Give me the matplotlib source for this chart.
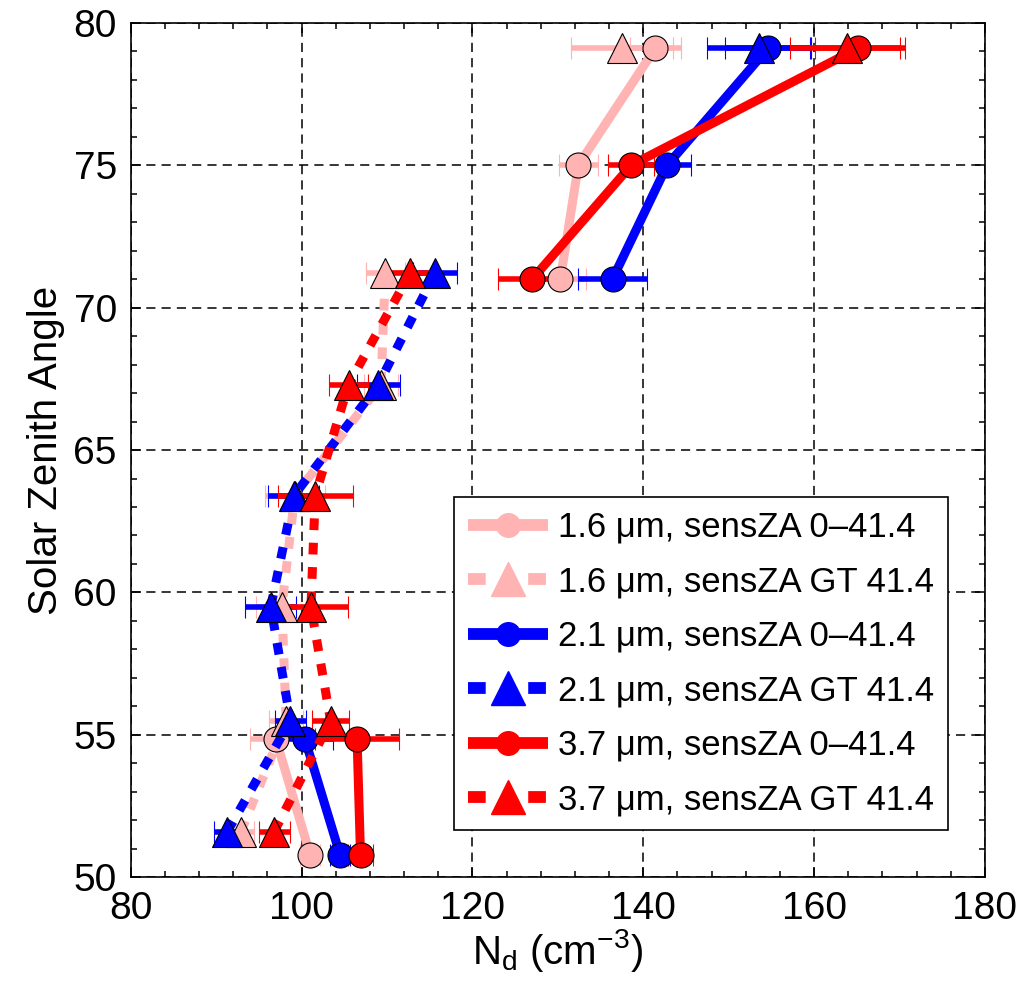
import numpy as np
import matplotlib
matplotlib.use('Agg')
import matplotlib.pyplot as plt
from matplotlib.lines import Line2D
from matplotlib.ticker import MultipleLocator

plt.rcParams['font.family'] = ['Liberation Sans', 'DejaVu Sans']
plt.rcParams['mathtext.fontset'] = 'custom'
plt.rcParams['mathtext.rm'] = 'Liberation Sans'
plt.rcParams['mathtext.it'] = 'Liberation Sans'

nan = np.nan

# mean solar zenith angle of each bin (near-nadir circles / off-nadir triangles)
sza_near = [50.8, 54.85, nan, nan, nan, 71.0, 75.0, 79.1]
sza_far = [51.6, 55.5, 59.5, 63.4, 67.3, 71.2, nan, 79.1]

# droplet number concentration and its error, per band
nd_16_near = [101.0, 97.0, nan, nan, nan, 130.3, 132.4, 141.4]
err_16_near = [1.2, 3.0, nan, nan, nan, 3.0, 2.3, 3.0]
nd_16_far = [92.9, 98.2, 97.7, 99.2, 109.3, 109.8, nan, 137.5]
err_16_far = [1.5, 2.0, 3.0, 3.5, 2.0, 2.3, nan, 6.0]

nd_21_near = [104.5, 100.4, nan, nan, nan, 136.4, 142.8, 154.6]
err_21_near = [1.2, 3.3, nan, nan, nan, 4.0, 2.8, 5.0]
nd_21_far = [91.3, 98.7, 96.4, 99.1, 109.0, 115.6, nan, 153.5]
err_21_far = [1.6, 1.8, 3.0, 3.0, 2.5, 2.6, nan, 6.0]

nd_37_near = [106.9, 106.5, nan, nan, nan, 127.0, 138.6, 165.1]
err_37_near = [1.5, 4.9, nan, nan, nan, 4.0, 2.7, 5.0]
nd_37_far = [96.8, 103.4, 101.1, 101.6, 105.5, 112.7, nan, 163.9]
err_37_far = [1.8, 2.2, 4.3, 4.4, 2.3, 3.0, nan, 6.7]

labels = ['1.6 \u03bcm, sensZA 0\u201341.4', '1.6 \u03bcm, sensZA GT 41.4',
          '2.1 \u03bcm, sensZA 0\u201341.4', '2.1 \u03bcm, sensZA GT 41.4',
          '3.7 \u03bcm, sensZA 0\u201341.4', '3.7 \u03bcm, sensZA GT 41.4']

pink = '#ffb3b3'
blue = '#0000ff'
red = '#ff0000'

series = [
    (nd_16_near, err_16_near, sza_near, pink, 'o'),
    (nd_16_far, err_16_far, sza_far, pink, '^'),
    (nd_21_near, err_21_near, sza_near, blue, 'o'),
    (nd_21_far, err_21_far, sza_far, blue, '^'),
    (nd_37_near, err_37_near, sza_near, red, 'o'),
    (nd_37_far, err_37_far, sza_far, red, '^'),
]

fig = plt.figure(figsize=(10.34, 9.92), dpi=100)
ax = fig.add_axes([0.1264, 0.1156, 0.8262, 0.8615])

handles = []
for x, e, y, c, m in series:
    if m == 'o':
        ls = '-'
        ms = 18
        hls = '-'
        hms = 17
    else:
        ls = (0, (1.3, 1.4))
        ms = 21
        hls = (0, (1.5, 3.6))
        hms = 25
    ax.errorbar(x, y, xerr=e, color=c, ls=ls, lw=6.5, marker=m, ms=ms,
                mfc=c, mec='k', mew=0.8, ecolor=c, elinewidth=4,
                capsize=8, capthick=4.5, dash_capstyle='butt',
                solid_capstyle='butt')
    handles.append(Line2D([], [], color=c, ls=hls, lw=8.5, marker=m, ms=hms,
                          mfc=c, mec=c, dash_capstyle='butt',
                          solid_capstyle='butt'))

ax.set_xlim(80, 180)
ax.set_ylim(50, 80)
ax.xaxis.set_major_locator(MultipleLocator(20))
ax.xaxis.set_minor_locator(MultipleLocator(4))
ax.yaxis.set_major_locator(MultipleLocator(5))
ax.yaxis.set_minor_locator(MultipleLocator(1))
ax.tick_params(which='both', direction='in', top=True, right=True,
               labelsize=28, width=1.1)
ax.tick_params(which='major', length=7, pad=10)
ax.tick_params(which='minor', length=4)
for s in ax.spines.values():
    s.set_linewidth(1.2)
ax.grid(True, which='major', color='k', ls=(0, (6, 4)), lw=1.1)
ax.set_axisbelow(True)

ax.set_xlabel(r'N$_\mathregular{d}$ (cm$^{\mathregular{-3}}$)', fontsize=29, labelpad=0)
ax.set_ylabel('Solar Zenith Angle', fontsize=29, labelpad=6)

leg = ax.legend(handles, labels, loc='lower right',
                bbox_to_anchor=(0.957, 0.055), borderaxespad=0,
                fontsize=25, handlelength=2.3, handletextpad=0.3,
                borderpad=0.4, labelspacing=0.62, fancybox=False,
                framealpha=1, edgecolor='k')
leg.get_frame().set_linewidth(1.2)

fig.savefig('out.png', dpi=100)
